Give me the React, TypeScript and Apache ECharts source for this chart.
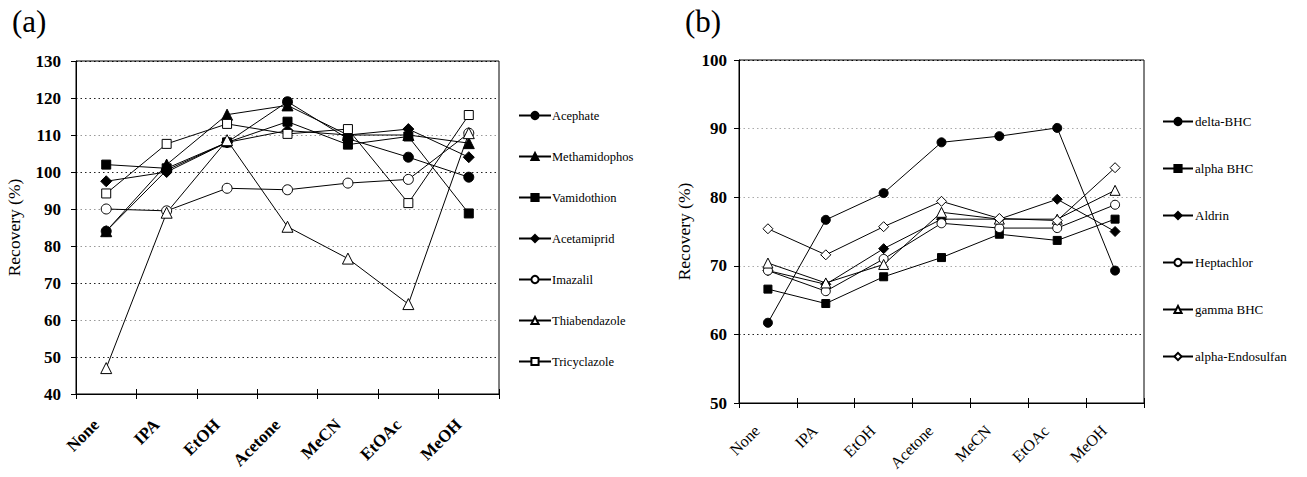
import React, { useEffect, useRef } from "react";
import * as echarts from "echarts";

const categories = ["None", "IPA", "EtOH", "Acetone", "MeCN", "EtOAc", "MeOH"];

// Panel (a)
const aNames = ["Acephate", "Methamidophos", "Vamidothion", "Acetamiprid", "Imazalil", "Thiabendazole", "Tricyclazole"];
const acephate = [84, 100.5, 108, 119, 109, 104, 98.6];
const methamidophos = [84, 102, 115.5, 118, 110, 110, 107.8];
const vamidothion = [102, 101, 108, 113.6, 107.4, 109.6, 88.8];
const acetamiprid = [97.5, 100, 108, 111.2, 110, 111.6, 104];
const imazalil = [90, 89.5, 95.6, 95.2, 97, 98, 110.5];
const thiabendazole = [47, 89, 108.6, 85.2, 76.6, 64.3, 110.5];
const tricyclazole = [94.2, 107.6, 113, 110.3, 111.6, 91.6, 115.4];
const aTicks = [40, 50, 60, 70, 80, 90, 100, 110, 120, 130];

// Panel (b)
const bNames = ["delta-BHC", "alpha BHC", "Aldrin", "Heptachlor", "gamma BHC", "alpha-Endosulfan"];
const deltaBHC = [61.7, 76.7, 80.6, 88, 88.9, 90.1, 69.3];
const alphaBHC = [66.6, 64.5, 68.4, 71.2, 74.6, 73.7, 76.8];
const aldrin = [69.3, 67.3, 72.5, 76.8, 76.8, 79.7, 75];
const heptachlor = [69.3, 66.3, 71, 76.2, 75.5, 75.5, 78.9];
const gammaBHC = [70.4, 67.5, 70.2, 77.8, 76.8, 76.8, 81];
const alphaEndosulfan = [75.4, 71.6, 75.7, 79.4, 76.9, 76.6, 84.3];
const bTicks = [50, 60, 70, 80, 90, 100];

const SERIF = "'Liberation Serif', 'DejaVu Serif', serif";

type Mk = { symbol: string; filled: boolean; size: number };
const aMarks: Mk[] = [
  { symbol: "circle", filled: true, size: 10 },
  { symbol: "triangle", filled: true, size: 11 },
  { symbol: "rect", filled: true, size: 9 },
  { symbol: "diamond", filled: true, size: 11 },
  { symbol: "circle", filled: false, size: 10 },
  { symbol: "triangle", filled: false, size: 11 },
  { symbol: "rect", filled: false, size: 9 },
];
const bMarks: Mk[] = [
  { symbol: "circle", filled: true, size: 9 },
  { symbol: "rect", filled: true, size: 8 },
  { symbol: "diamond", filled: true, size: 10 },
  { symbol: "circle", filled: false, size: 9 },
  { symbol: "triangle", filled: false, size: 10 },
  { symbol: "diamond", filled: false, size: 10 },
];

function mkSeries(name: string, data: number[], m: Mk, axisIdx: number) {
  return {
    name,
    type: "line",
    data,
    xAxisIndex: axisIdx,
    yAxisIndex: axisIdx,
    symbol: m.symbol,
    symbolSize: m.size,
    z: 5,
    lineStyle: { color: "#000", width: 1 },
    itemStyle: {
      color: m.filled ? "#000" : "#fff",
      borderColor: "#000",
      borderWidth: 1,
    },
  };
}

function xAxisFor(gridIndex: number) {
  return {
    gridIndex,
    type: "category",
    data: categories,
    boundaryGap: true,
    axisLine: { lineStyle: { color: "#000", width: 1 } },
    axisTick: { show: true, length: 5, lineStyle: { color: "#000" }, interval: 0 },
    axisLabel: { show: false },
  };
}

function tickOnlyAxis(gridIndex: number) {
  return {
    gridIndex,
    type: "category",
    data: categories,
    boundaryGap: true,
    position: "bottom",
    offset: -5,
    axisLine: { show: false },
    axisTick: { show: true, length: 5, lineStyle: { color: "#000" }, interval: 0 },
    axisLabel: { show: false },
  };
}

export default function App() {
  const ref = useRef<HTMLDivElement>(null);
  useEffect(() => {
    document.body.style.margin = "0";
    if (!ref.current) return;
    const chart = echarts.init(ref.current, undefined, { renderer: "svg" });
    const aData = [acephate, methamidophos, vamidothion, acetamiprid, imazalil, thiabendazole, tricyclazole];
    const bData = [deltaBHC, alphaBHC, aldrin, heptachlor, gammaBHC, alphaEndosulfan];

    const option: any = {
      animation: false,
      backgroundColor: "#fff",
      title: [
        { text: "(a)", left: 7, top: 1, textStyle: { fontFamily: SERIF, fontSize: 31, fontWeight: "normal", color: "#000" } },
        { text: "(b)", left: 680, top: 1, textStyle: { fontFamily: SERIF, fontSize: 31, fontWeight: "normal", color: "#000" } },
      ],
      legend: [
        {
          data: aNames,
          orient: "vertical",
          left: 513,
          top: 104,
          itemWidth: 32,
          itemHeight: 9,
          itemGap: 28,
          textStyle: { fontFamily: SERIF, fontSize: 12.5, lineHeight: 12, color: "#000", padding: [0, 0, 0, -4] },
        },
        {
          data: bNames,
          orient: "vertical",
          left: 1157,
          top: 110,
          itemWidth: 30,
          itemHeight: 9,
          itemGap: 34,
          textStyle: { fontFamily: SERIF, fontSize: 13, lineHeight: 12, color: "#000", padding: [0, 0, 0, -3] },
        },
      ],
      grid: [
        { left: 76, top: 61, width: 423, height: 333, show: true, borderColor: "#000", borderWidth: 1, backgroundColor: "transparent" },
        { left: 739, top: 60, width: 405, height: 343, show: true, borderColor: "#000", borderWidth: 1, backgroundColor: "transparent" },
      ],
      xAxis: [xAxisFor(0), xAxisFor(1), tickOnlyAxis(0), tickOnlyAxis(1)],
      yAxis: [
        {
          gridIndex: 0,
          type: "value",
          min: aTicks[0],
          max: aTicks[aTicks.length - 1],
          interval: 10,
          name: "Recovery (%)",
          nameLocation: "middle",
          nameGap: 53,
          nameTextStyle: { fontFamily: SERIF, fontSize: 17.5, color: "#000" },
          axisLine: { show: true, lineStyle: { color: "#000" } },
          axisTick: { show: true, length: 5, lineStyle: { color: "#000" } },
          axisLabel: { fontFamily: SERIF, fontSize: 17, fontWeight: "bold", color: "#000", margin: 15 },
          splitLine: {
            show: true,
            lineStyle: {
              type: [1.5, 3],
              width: 1.2,
              color: ["#000", "#222", "#999", "#222", "#999", "#999", "#222", "#999", "#222", "#000"],
            },
          },
        },
        {
          gridIndex: 1,
          type: "value",
          min: bTicks[0],
          max: bTicks[bTicks.length - 1],
          interval: 10,
          name: "Recovery (%)",
          nameLocation: "middle",
          nameGap: 46,
          nameTextStyle: { fontFamily: SERIF, fontSize: 17.5, color: "#000" },
          axisLine: { show: true, lineStyle: { color: "#000" } },
          axisTick: { show: true, length: 5, lineStyle: { color: "#000" } },
          axisLabel: { fontFamily: SERIF, fontSize: 17, fontWeight: "bold", color: "#000", margin: 12 },
          splitLine: {
            show: true,
            lineStyle: {
              type: [1.5, 3],
              width: 1.2,
              color: ["#000", "#222", "#aaa", "#aaa", "#aaa", "#000"],
            },
          },
        },
      ],
      series: [
        ...aNames.map((n, i) => mkSeries(n, aData[i], aMarks[i], 0)),
        ...bNames.map((n, i) => mkSeries(n, bData[i], bMarks[i], 1)),
      ],
    };
    chart.setOption(option);

    // Rotated category labels positioned through the category axes
    const labelSpecs = [
      { axis: 0, yMin: aTicks[0], dx: -10, dy: 28, font: `bold 17px ${SERIF}` },
      { axis: 1, yMin: bTicks[0], dx: -11, dy: 25, font: `16px ${SERIF}` },
    ];
    const graphics: any[] = [];
    labelSpecs.forEach((s) => {
      const yPix = chart.convertToPixel({ yAxisIndex: s.axis } as any, s.yMin) as number;
      categories.forEach((c) => {
        const xPix = chart.convertToPixel({ xAxisIndex: s.axis } as any, c) as number;
        graphics.push({
          type: "text",
          x: xPix + s.dx,
          y: yPix + s.dy,
          rotation: Math.PI / 4,
          style: { text: c, font: s.font, fill: "#000", align: "right", verticalAlign: "middle" },
        });
      });
    });
    chart.setOption({ graphic: graphics });
    return () => chart.dispose();
  }, []);
  return <div ref={ref} style={{ width: 1307, height: 477 }} />;
}
